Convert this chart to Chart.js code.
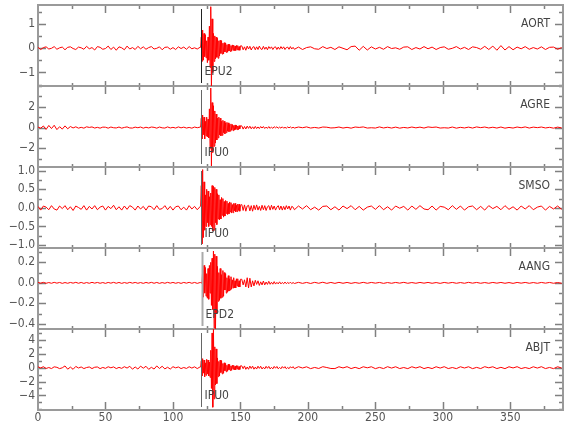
<!DOCTYPE html>
<html>
<head>
<meta charset="utf-8">
<script src="https://cdn.jsdelivr.net/npm/chart.js@4.4.1/dist/chart.umd.min.js"></script>
<style>
  body { margin: 0; background: #fff; }
</style>
</head>
<body>
<canvas id="myChart" width="580" height="440"></canvas>
<script>
// sampling segments shared by all traces (start time, step in seconds)
const segStarts = [0, 120.5, 151, 193];
const segSteps = [2, 0.5, 1, 3];

const stations = ['AORT', 'AGRE', 'SMSO', 'AANG', 'ABJT'];
const pickNames = ['EPU2', 'IPU0', 'IPU0', 'EPD2', 'IPU0'];
const pickTimes = [120.7, 120.7, 120.7, 121.5, 120.7];

const xTickValues = [0, 50, 100, 150, 200, 250, 300, 350];
const yTickValues = [
  [1, 0, -1],
  [2, 0, -2],
  [1, 0.5, 0, -0.5, -1],
  [0.2, 0, -0.2, -0.4],
  [4, 2, 0, -2, -4]
];
const yTickLabels = [
  ['1', '0', '\u22121'],
  ['2', '0', '\u22122'],
  ['1.0', '0.5', '0.0', '\u22120.5', '\u22121.0'],
  ['0.2', '0.0', '\u22120.2', '\u22120.4'],
  ['4', '2', '0', '\u22122', '\u22124']
];
const yMinorStep = [0.5, 1, 0.25, 0.1, 1];
const yMin = [-1.56, -3.8, -1.08, -0.45, -6.1];
const yMax = [1.77, 4.0, 1.1, 0.34, 5.57];

// AORT
const aortPre = [0.03,-0.06,0.02,0.05,-0.04,-0.01,0.06,-0.05,0.01,0.04,
  -0.07,0.03,0.05,-0.02,-0.06,0.04,0.01,-0.05,0.07,-0.03,
  0.02,-0.08,0.06,0.03,-0.05,-0.02,0.08,-0.06,0.04,-0.09,
  0.05,0.01,-0.07,0.08,-0.04,0.02,-0.06,0.07,-0.03,0.05,
  -0.05,0.02,0.06,-0.04,-0.01,0.05,-0.07,0.03,0.04,-0.05,
  0.02,-0.06,0.05,-0.02,0.04,-0.05,0.06,-0.03,0.01,-0.04,0.03];
const aortEvent = [0.03,
  0.45,-0.55,0.74,-0.5,0.6,-0.35,0.55,-0.4,0.3,-0.6,0.45,-0.5,
  0.9,-0.8,1.7,-1.75,1.2,-1.0,0.6,-0.55,0.5,-0.45,
  0.45,-0.38,0.4,-0.42,0.3,-0.33,0.32,-0.22,0.3,-0.25,
  0.2,-0.24,0.22,-0.16,0.21,-0.18,0.14,-0.17,0.16,-0.12,
  0.15,-0.14,0.1,-0.13,0.13,-0.09,0.12,-0.11,0.08,-0.1,
  0.11,-0.07,0.1,-0.09,0.06,-0.09,0.09];
const aortCoda = [0.09,-0.07,0.05,-0.09,0.08,-0.04,0.07,-0.08,0.03,0.06,
  -0.07,0.05,-0.06,0.08,-0.03,-0.06,0.07,-0.05,0.04,-0.07,
  0.06,-0.02,0.05,-0.06,0.03,0.05,-0.06,0.04,-0.05,0.06,
  -0.03,0.05,-0.06,0.02,0.04,-0.05,0.06,-0.04,0.03,-0.05];
const aortTail = [0.04,-0.06,0.02,0.05,-0.03,-0.05,0.06,-0.02,0.03,-0.06,
  0.05,-0.01,-0.07,0.06,0.08,-0.09,0.07,-0.08,0.05,-0.04,
  0.03,-0.05,0.06,-0.02,0.01,-0.05,0.04,0.05,-0.06,0.02,
  -0.04,0.06,-0.03,0.04,-0.06,0.02,0.05,-0.05,-0.01,0.06,
  -0.04,0.03,-0.06,0.05,0.02,-0.05,0.07,-0.06,0.08,-0.09,
  0.1,-0.08,0.06,-0.07,0.04,-0.03,0.06,-0.05,0.02,-0.04,
  0.05,-0.06,0.03,0.04,-0.05,0.02];

// AGRE
const agrePre = [0.05,-0.06,0.15,-0.18,0.2,-0.1,0.22,-0.2,0.08,-0.15,
  0.16,-0.12,0.1,-0.04,0.07,-0.06,0.02,-0.06,0.07,0.01,
  0.06,-0.05,0.02,-0.06,0.04,0.03,-0.06,0.05,-0.02,-0.04,
  0.05,-0.06,0.01,0.06,-0.04,-0.05,0.04,-0.02,0.05,-0.06,
  0.03,-0.04,0.05,0.02,-0.06,0.05,-0.03,-0.05,0.06,-0.04,
  0.02,-0.05,0.06,-0.03,0.04,-0.05,0.01,-0.06,0.05,-0.02,0.04];
const agreEvent = [0.05,
  0.9,-1.1,1.2,-0.7,1.0,-1.1,0.6,-0.8,1.0,-0.9,0.8,-1.0,
  1.8,-2.0,3.8,-3.7,2.4,-2.4,2.1,-1.8,1.6,-1.5,
  1.3,-1.2,0.9,-1.0,1.0,-0.7,0.9,-0.8,0.6,-0.75,
  0.7,-0.5,0.6,-0.6,0.45,-0.5,0.5,-0.35,0.45,-0.4,
  0.3,-0.35,0.35,-0.25,0.3,-0.3,0.2,-0.25,0.25,-0.18,
  0.22,-0.2,0.15,-0.2,0.18,-0.12,0.17];
const agreCoda = [0.16,-0.15,0.1,-0.14,0.14,-0.08,0.13,-0.12,0.07,-0.12,
  0.11,-0.1,0.06,-0.1,0.1,-0.05,0.1,-0.09,0.04,-0.08,
  0.09,-0.08,0.05,-0.08,0.08,-0.03,0.07,-0.07,0.04,-0.06,
  0.07,-0.06,0.02,-0.06,0.06,-0.03,0.06,-0.05,0.03,-0.05];
const agreTail = [0.05,-0.02,0.06,-0.05,0.01,-0.05,0.05,0.03,-0.04,-0.02,
  0.05,-0.05,0.02,-0.06,0.05,0.01,0.06,-0.05,-0.02,-0.05,
  0.06,-0.04,0.03,-0.05,0.04,-0.06,0.01,-0.04,0.05,-0.03,
  0.04,-0.05,0.06,0.01,0.05,-0.05,-0.02,-0.05,0.05,-0.06,
  0.02,-0.04,0.04,-0.05,0.06,-0.01,0.05,-0.04,0.03,-0.05,
  0.05,-0.06,0.01,-0.05,0.05,-0.02,0.06,-0.05,0.04,-0.01,
  0.05,-0.04,0.02,-0.06,0.04,-0.03];

// SMSO
const smsoPre = [0.04,-0.06,0.05,0.02,-0.05,0.06,-0.03,-0.06,0.05,-0.02,
  0.06,-0.05,0.03,-0.07,0.05,0.01,-0.04,0.06,-0.06,0.04,
  -0.03,0.06,-0.05,0.02,0.05,-0.06,0.04,-0.02,0.07,-0.05,
  0.03,-0.06,0.05,-0.04,0.06,0.02,-0.06,0.05,-0.03,0.04,
  -0.06,0.05,0.03,-0.05,0.06,-0.04,-0.02,0.06,-0.05,0.04,
  -0.06,0.03,0.05,-0.05,0.02,-0.06,0.06,-0.03,0.04,-0.05,0.03];
const smsoEvent = [0.05,
  0.6,-0.97,1.03,-0.8,0.7,-0.6,0.35,-0.5,0.5,-0.4,0.45,-0.5,0.3,-0.45,0.4,-0.5,
  0.6,-0.62,0.58,-0.6,0.55,-0.4,0.5,-0.45,
  0.38,-0.3,0.35,-0.32,0.22,-0.3,0.28,-0.2,0.25,-0.25,
  0.17,-0.22,0.2,-0.15,0.18,-0.18,0.12,-0.16,0.16,-0.11,
  0.14,-0.14,0.09,-0.13,0.12,-0.08,0.12,-0.11,0.07,-0.1,
  0.1,-0.07,0.1,-0.09,0.06];
const smsoCoda = [0.09,-0.07,0.08,-0.09,0.05,0.07,-0.08,0.06,-0.09,0.07,
  -0.05,0.08,-0.06,0.04,-0.07,0.07,-0.05,0.06,-0.07,0.03,
  0.06,-0.06,0.07,-0.04,0.05,-0.06,0.02,0.06,-0.05,0.05,
  -0.06,0.04,-0.05,0.06,-0.03,0.05,-0.06,0.04,0.02,-0.05];
const smsoTail = [0.05,-0.03,0.06,-0.05,0.02,-0.06,0.04,0.05,-0.05,0.03,
  -0.06,0.05,-0.02,0.06,-0.05,0.04,-0.06,0.02,0.05,-0.04,
  0.06,-0.05,0.03,-0.06,0.05,-0.01,0.04,-0.06,0.05,-0.04,
  0.06,-0.03,-0.05,0.05,-0.06,0.04,0.02,-0.05,0.06,-0.04,
  0.05,-0.06,0.03,0.05,-0.05,0.04,-0.06,0.06,-0.02,0.04,
  -0.05,0.06,-0.04,0.03,-0.06,0.05,-0.03,0.06,-0.05,0.02,
  0.05,-0.06,0.04,-0.03,0.05,-0.04];

// AANG
const aangPre = [0.004,-0.003,0.005,-0.004,0.003,-0.004,0.005,-0.003,0.004,-0.005,
  0.003,-0.004,0.004,-0.003,0.005,-0.004,0.004,-0.005,0.003,-0.004,
  0.005,-0.003,0.004,-0.004,0.003,-0.005,0.004,-0.003,0.005,-0.004,
  0.004,-0.005,0.003,-0.004,0.005,-0.003,0.004,-0.004,0.003,-0.005,
  0.004,-0.003,0.005,-0.004,0.004,-0.005,0.003,-0.004,0.005,-0.003,
  0.004,-0.004,0.003,-0.005,0.004,-0.003,0.005,-0.004,0.004,-0.005,0.003];
const aangEvent = [0.003,
  0.004,-0.005,0.12,-0.14,0.17,-0.1,0.15,-0.13,0.09,-0.15,0.14,-0.16,0.17,-0.1,0.2,-0.22,
  0.24,-0.26,0.31,-0.44,0.28,-0.49,0.26,-0.3,
  0.16,-0.18,0.1,-0.17,0.14,-0.15,0.08,-0.14,0.12,-0.13,
  0.1,-0.07,0.09,-0.1,0.05,-0.09,0.07,-0.08,0.04,-0.07,
  0.06,-0.06,0.03,-0.05,0.05,-0.05,0.02,-0.05,0.04,-0.03,
  0.04,-0.04,0.02,-0.04,0.035];
const aangCoda = [0.035,-0.02,0.03,-0.04,0.05,-0.05,0.045,-0.04,0.02,-0.03,
  0.025,-0.015,0.02,-0.025,0.01,-0.02,0.018,-0.02,0.008,-0.015,
  0.015,-0.014,0.006,-0.013,0.012,-0.012,0.005,-0.01,0.01,-0.01,
  0.004,-0.009,0.008,-0.008,0.004,-0.007,0.007,-0.007,0.003,-0.006];
const aangTail = [0.005,-0.005,0.004,-0.006,0.005,-0.004,0.006,-0.005,0.004,-0.005,
  0.005,-0.004,0.004,-0.005,0.003,-0.004,0.005,-0.004,0.004,-0.003,
  0.004,-0.005,0.003,-0.004,0.004,-0.003,0.005,-0.004,0.003,-0.004,
  0.004,-0.003,0.004,-0.004,0.003,-0.005,0.004,-0.003,0.004,-0.004,
  0.003,-0.004,0.005,-0.003,0.004,-0.004,0.003,-0.004,0.004,-0.003,
  0.004,-0.004,0.003,-0.005,0.004,-0.003,0.004,-0.004,0.003,-0.004,
  0.004,-0.003,0.004,-0.004,0.003,-0.004];

// ABJT
const abjtPre = [0.12,-0.04,0.14,-0.12,0.02,-0.13,0.12,0.05,-0.14,-0.02,
  0.25,-0.22,0.08,-0.24,0.18,-0.05,0.1,-0.13,0.02,0.1,
  -0.13,0.06,0.1,-0.14,0.03,-0.1,0.13,-0.02,0.11,-0.13,
  0.04,-0.1,0.14,-0.06,0.2,-0.22,0.1,-0.2,0.22,-0.08,
  0.2,-0.24,0.05,-0.2,0.25,-0.12,0.2,-0.18,0.06,-0.2,
  0.14,-0.03,0.1,-0.13,0.02,-0.11,0.13,-0.06,0.12,-0.13,0.1];
const abjtEvent = [0.1,
  1.0,-1.2,1.3,-0.8,1.1,-1.3,0.7,-1.1,1.2,-0.9,1.1,-1.2,0.8,-1.4,
  2.5,-3.0,5.0,-5.7,6.0,-4.5,3.0,-2.5,2.7,-2.3,
  1.4,-1.3,0.9,-1.2,1.1,-0.7,1.0,-0.9,0.6,-0.8,
  0.7,-0.45,0.6,-0.6,0.35,-0.5,0.5,-0.3,0.45,-0.42,
  0.25,-0.38,0.36,-0.22,0.34,-0.32,0.2,-0.3,0.3,-0.18,
  0.28,-0.28,0.15,-0.26,0.26];
const abjtCoda = [0.26,-0.15,0.25,-0.24,0.1,-0.23,0.23,-0.12,0.22,-0.22,
  0.08,-0.2,0.21,-0.1,0.2,-0.19,0.06,-0.18,0.19,-0.09,
  0.18,-0.18,0.05,-0.17,0.18,-0.08,0.17,-0.16,0.04,-0.16,
  0.16,-0.07,0.15,-0.16,0.03,-0.15,0.14,-0.06,0.15,-0.14];
const abjtTail = [0.14,-0.05,0.12,-0.14,0.03,-0.12,0.14,0.02,-0.12,-0.13,
  0.13,-0.04,0.14,-0.13,0.05,-0.14,0.13,-0.02,0.13,-0.14,
  0.04,-0.13,0.14,-0.06,0.13,-0.13,0.02,-0.14,0.13,-0.05,
  0.14,-0.13,0.03,-0.13,0.13,-0.06,0.14,-0.13,0.02,-0.14,
  0.13,-0.05,0.13,-0.14,0.04,-0.13,0.14,-0.02,0.13,-0.13,
  0.05,-0.14,0.13,-0.04,0.14,-0.13,0.02,-0.13,0.13,-0.06,
  0.14,-0.13,0.03,-0.14,0.13,-0.05];

const traces = [
  [aortPre, aortEvent, aortCoda, aortTail],
  [agrePre, agreEvent, agreCoda, agreTail],
  [smsoPre, smsoEvent, smsoCoda, smsoTail],
  [aangPre, aangEvent, aangCoda, aangTail],
  [abjtPre, abjtEvent, abjtCoda, abjtTail]
];

function toPoints(segments) {
  const pts = [];
  segments.forEach((seg, s) => {
    seg.forEach((v, i) => pts.push({ x: segStarts[s] + i * segSteps[s], y: v }));
  });
  return pts;
}

const FONT = '"Liberation Sans Narrow", "DejaVu Sans Condensed", sans-serif';
const xMax = 389;
const last = stations.length - 1;

const scales = {
  x: {
    type: 'linear', position: 'bottom', min: 0, max: xMax,
    grid: { display: false, drawTicks: false }, border: { display: false },
    ticks: { font: { family: FONT, size: 12 }, color: '#555', padding: 1, maxRotation: 0, autoSkip: false },
    afterBuildTicks: (axis) => { axis.ticks = xTickValues.map(v => ({ value: v })); },
    afterFit: (axis) => {
      axis.height = 30;
      axis.paddingLeft = 0; axis.paddingRight = 0;
    }
  }
};
stations.forEach((st, i) => {
  scales['y' + i] = {
    type: 'linear', position: 'left', stack: 'traces', stackWeight: 1, weight: stations.length - i,
    min: yMin[i], max: yMax[i],
    grid: { display: false, drawTicks: false }, border: { display: false },
    ticks: {
      font: { family: FONT, size: 12 }, color: '#555', padding: 3, autoSkip: false,
      callback: (v, idx) => yTickLabels[i][idx]
    },
    afterBuildTicks: (axis) => { axis.ticks = yTickValues[i].map(v => ({ value: v })); },
    afterFit: (axis) => {
      axis.width = 38;
      axis.paddingTop = 0; axis.paddingBottom = 0;
    }
  };
});

const panelPlugin = {
  id: 'panels',
  beforeDatasetsDraw(chart) {
    const ctx = chart.ctx;
    const x = chart.scales.x;
    const { left, right } = chart.chartArea;
    ctx.save();
    stations.forEach((st, i) => {
      const y = chart.scales['y' + i];
      const top = y.top, bottom = y.bottom;
      ctx.strokeStyle = '#808080';
      ctx.lineWidth = 1.5;
      ctx.beginPath();
      for (let t = 25; t < xMax; t += 25) {
        const px = Math.round(x.getPixelForValue(t)) + 0.5;
        const major = t % 50 === 0;
        const lt = major ? 8 : 4;
        const lb = i === last ? lt : (major ? 5 : 3);
        ctx.moveTo(px, top); ctx.lineTo(px, top + lt);
        ctx.moveTo(px, bottom); ctx.lineTo(px, bottom - lb);
      }
      const step = yMinorStep[i];
      for (let k = Math.ceil(yMin[i] / step); k * step <= yMax[i]; k++) {
        const v = k * step;
        const py = Math.round(y.getPixelForValue(v)) + 0.5;
        const major = yTickValues[i].some(m => Math.abs(m - v) < 1e-6);
        const len = major ? 8 : 4;
        ctx.moveTo(left, py); ctx.lineTo(left + len, py);
        ctx.moveTo(right, py); ctx.lineTo(right - len, py);
      }
      ctx.stroke();
      ctx.strokeStyle = '#9a9a9a';
      ctx.lineWidth = 2;
      ctx.strokeRect(left, top, right - left, bottom - top);
    });
    ctx.restore();
  },
  afterDatasetsDraw(chart) {
    const ctx = chart.ctx;
    const x = chart.scales.x;
    const { right } = chart.chartArea;
    ctx.save();
    stations.forEach((st, i) => {
      const y = chart.scales['y' + i];
      const px = Math.round(x.getPixelForValue(pickTimes[i])) + 0.5;
      ctx.strokeStyle = i === 0 ? '#222' : (i === 3 ? '#aaa' : '#666');
      ctx.lineWidth = i === 3 ? 2 : 1;
      ctx.beginPath();
      ctx.moveTo(px, y.top + 4);
      ctx.lineTo(px, y.bottom - 3);
      ctx.stroke();

      ctx.fillStyle = '#444';
      ctx.font = '12px ' + FONT;
      ctx.textBaseline = 'middle';
      ctx.textAlign = 'left';
      ctx.fillText(pickNames[i], px + 3, y.bottom - 14);
      ctx.textAlign = 'right';
      ctx.fillText(st, right - 13, y.top + 19);
    });
    ctx.restore();
  }
};

const ctx = document.getElementById('myChart').getContext('2d');
const myChart = new Chart(ctx, {
  type: 'line',
  data: {
    datasets: traces.map((segs, i) => ({
      label: stations[i],
      data: toPoints(segs),
      yAxisID: 'y' + i,
      borderColor: '#ff0000',
      borderWidth: 1,
      pointRadius: 0,
      tension: 0,
      fill: false
    }))
  },
  options: {
    responsive: false,
    animation: false,
    devicePixelRatio: 1,
    layout: { padding: { top: 5, right: 17, left: 0, bottom: 0 } },
    plugins: { legend: { display: false }, tooltip: { enabled: false } },
    scales: scales
  },
  plugins: [panelPlugin]
});
</script>
</body>
</html>
